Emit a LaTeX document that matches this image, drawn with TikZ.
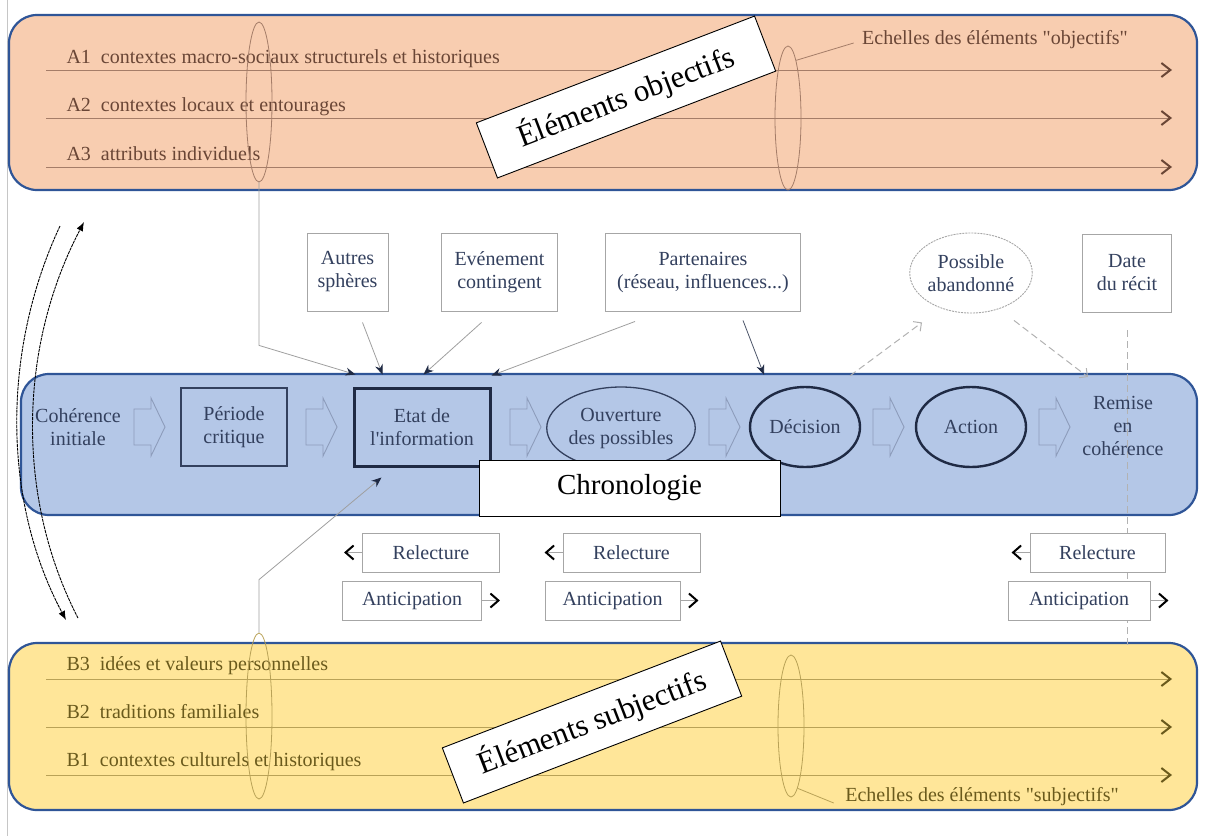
\documentclass[tikz,border=0pt]{standalone}
\usepackage{fontspec}
\setmainfont{Liberation Serif}[Ligatures=TeXOff]
\usetikzlibrary{arrows.meta, positioning, shapes.geometric, calc}
\definecolor{Peach}{HTML}{F8CDB0}
\definecolor{SkyBand}{HTML}{B4C7E7}
\definecolor{Straw}{HTML}{FFE699}
\definecolor{Rim}{HTML}{2F5597}
\definecolor{Umber}{HTML}{6A4636}
\definecolor{UmberLine}{HTML}{A57D68}
\definecolor{Olive}{HTML}{6A5A1C}
\definecolor{OliveLine}{HTML}{B9A257}
\definecolor{Slate}{HTML}{33405E}
\definecolor{Navy}{HTML}{1F2A44}
\definecolor{Ghost}{HTML}{8D9CBB}

\begin{document}
\begin{tikzpicture}[x=1pt, y=-1pt,
    every node/.style={font=\fontsize{20}{23}\selectfont, align=center},
    band/.style={draw=Rim, line width=2.2pt, rounded corners=28pt},
    echelle/.style={ellipse, draw=#1, line width=0.8pt, minimum width=26pt, inner sep=0pt},
    box/.style={rectangle, draw=gray!70, line width=0.9pt, fill=white, text=Slate, inner sep=0pt},
    stage/.style={rectangle, draw=Slate, line width=1.2pt, text=Slate, inner sep=0pt},
    phase/.style={ellipse, draw=Navy, line width=2.4pt, text=Slate, inner sep=0pt},
    tag/.style={rectangle, draw=black, line width=0.9pt, fill=white, text=black, inner sep=0pt},
    hollow/.style={draw=Ghost, line width=0.9pt},
    feed/.style={draw=gray!75, line width=0.8pt, -{Stealth[length=10pt, width=8pt, color=Navy]}},
    hint/.style={draw=gray!60, line width=1pt, dash pattern=on 7pt off 4pt, -{Straight Barb[length=6pt, width=12pt]}},
    stub/.style={draw=gray!70, line width=0.8pt, -{Straight Barb[length=8pt, width=14pt, line width=2pt, color=black]}},
    swing/.style={line width=0.9pt, dash pattern=on 3pt off 0.8pt, -{Latex[length=9pt, width=7pt]}},
    objline/.style={draw=UmberLine, line width=1pt, -{Straight Barb[length=9pt, width=14pt, line width=2pt, color=Umber]}},
    subline/.style={draw=OliveLine, line width=1pt, -{Straight Barb[length=9pt, width=14pt, line width=2pt, color=Olive]}}
]
\useasboundingbox (0,0) rectangle (1206,836);
\draw[gray!45, line width=1pt] (7,0) -- (7,836);

% Bands
\draw[band, fill=Peach] (9,15) rectangle (1197,190);
\draw[band, fill=SkyBand] (21,374) rectangle (1197,515);
\draw[band, fill=Straw] (9,643) rectangle (1197,810);

% Objective scales
\foreach \y in {70,118,167} \draw[objline] (46,\y) -- (1172,\y);
\node[anchor=base west, text=Umber] (a1) at (63,63) {A1\ \ contextes macro-sociaux structurels et historiques};
\node[anchor=base west, text=Umber] (a2) at (63,111) {A2\ \ contextes locaux et entourages};
\node[anchor=base west, text=Umber] (a3) at (63,160) {A3\ \ attributs individuels};
\node[echelle=UmberLine, minimum height=160pt] (echA) at (259,102) {};
\node[echelle=UmberLine, minimum height=144pt] (echTR) at (788,118) {};
\node[text=Umber] (echObj) at (995,40) {Echelles des éléments "objectifs"};
\draw[UmberLine, line width=0.8pt] (echTR.82) -- ([xshift=-5pt,yshift=-3pt]echObj.west);

% Subjective scales
\foreach \y in {679,727,775} \draw[subline] (46,\y) -- (1172,\y);
\node[anchor=base west, text=Olive] (b3) at (63,670) {B3\ \ idées et valeurs personnelles};
\node[anchor=base west, text=Olive] (b2) at (63,718) {B2\ \ traditions familiales};
\node[anchor=base west, text=Olive] (b1) at (63,766) {B1\ \ contextes culturels et historiques};
\node[echelle=OliveLine, minimum height=166pt] (echB) at (259,716) {};
\node[echelle=OliveLine, minimum height=142pt] (echBR) at (791,726) {};
\node[text=Olive] (echSub) at (982,797) {Echelles des éléments "subjectifs"};
\draw[OliveLine, line width=0.8pt] (echBR.-84) -- ([xshift=-8pt,yshift=-6pt]echSub.west);

% Narrative date
\coordinate (dateEnd) at (1127,648);
\draw[gray!60, line width=1pt, dash pattern=on 7pt off 4pt] (1127,330) -- (dateEnd);

% Chronology
\foreach \x in {134,306,510,709,873,1039}
  \draw[hollow] (\x,409) -- ++(17,0) -- ++(0,-11) -- ++(14,29) -- ++(-14,29) -- ++(0,-11) -- ++(-17,0) -- cycle;
\node[text=Slate] (coh) at (78,427) {Cohérence\\initiale};
\node[stage, minimum width=106pt, minimum height=78pt] (crit) at (234,427) {Période\\critique};
\node[stage, draw=Navy, line width=3pt, minimum width=136pt, minimum height=78pt] (etat) at (422,427) {Etat de\\l'information};
\node[phase, draw=Slate, line width=1.3pt, minimum width=146pt, minimum height=82pt] (ouv) at (621,428) {Ouverture\\des possibles};
\node[phase, minimum width=110pt, minimum height=80pt] (deci) at (805,427) {Décision};
\node[phase, minimum width=110pt, minimum height=80pt] (act) at (971,427) {Action};
\node[text=Slate] (remise) at (1123,426) {Remise\\en\\cohérence};
\node[tag, minimum width=301pt, minimum height=56pt, font=\fontsize{29}{34}\selectfont] (chrono) at (629.5,488) {Chronologie};

% Influences
\node[box, minimum width=81pt, minimum height=78pt] (autres) at (347.5,272) {Autres\\sphères};
\node[box, minimum width=116pt, minimum height=78pt] (even) at (499.5,272) {Evénement\\contingent};
\node[box, minimum width=195pt, minimum height=78pt] (part) at (703,272) {Partenaires\\(réseau, influences...)};
\node[ellipse, draw=gray!70, line width=0.9pt, dash pattern=on 2pt off 1pt, fill=white, text=Slate, inner sep=0pt, minimum width=118pt, minimum height=80pt] (aband) at (971,273) {Possible\\abandonné};
\node[box, minimum width=89pt, minimum height=78pt] (date) at (1127,273) {Date\\du récit};
\coordinate (remiseIn) at (1088,377);

\draw[feed] (echA.south) -- ++(0,163) -- ([shift={(3,-12)}]etat.north west);
\draw[feed] ([shift={(15,11)}]autres.south) -- ([shift={(30,-12)}]etat.north west);
\draw[feed] ([shift={(-18,11)}]even.south) -- ([shift={(71,-12)}]etat.north west);
\draw[feed] ([shift={(30,10)}]part.south west) -- ([shift={(0,-11)}]etat.north east);
\draw[feed, draw=Navy!80] ([shift={(40,9)}]part.south) -- ([shift={(-41,-11)}]deci.north);
\draw[feed] (echB.north) -- ++(0,-53) -- ([shift={(29,10)}]etat.south west);
\draw[hint] ([shift={(45,-10)}]deci.north) -- ([shift={(-49,9)}]aband.south);
\draw[hint] ([shift={(43,7)}]aband.south) -- (remiseIn);

% Rereading and anticipation
\node[box, minimum width=137pt, minimum height=39pt] (rel1) at (431,552.5) {Relecture};
\node[box, minimum width=139pt, minimum height=39pt] (ant1) at (412,600.5) {Anticipation};
\node[box, minimum width=137pt, minimum height=39pt] (rel2) at (631.5,552.5) {Relecture};
\node[box, minimum width=135pt, minimum height=39pt] (ant2) at (612.5,600.5) {Anticipation};
\node[box, minimum width=135pt, minimum height=39pt] (rel3) at (1097.5,552.5) {Relecture};
\node[box, minimum width=142pt, minimum height=39pt] (ant3) at (1079,600.5) {Anticipation};
\foreach \n in {rel1,rel2,rel3} \draw[stub] (\n.west) -- ++(-18,0);
\foreach \n in {ant1,ant2,ant3} \draw[stub] (\n.east) -- ++(18,0);

% Back and forth
\draw[swing] (60,226) .. controls (2,350) and (2,500) .. (66,620);
\draw[swing] (78,618) .. controls (17,500) and (17,350) .. (84,222);

% Labels
\node[tag, rotate=21, minimum width=298pt, minimum height=59pt, font=\fontsize{31}{36}\selectfont] (objtag) at (626,97) {Éléments objectifs};
\node[tag, rotate=21, minimum width=298pt, minimum height=59pt, font=\fontsize{31}{36}\selectfont] (subtag) at (592,722) {Éléments subjectifs};
\end{tikzpicture}
\end{document}
